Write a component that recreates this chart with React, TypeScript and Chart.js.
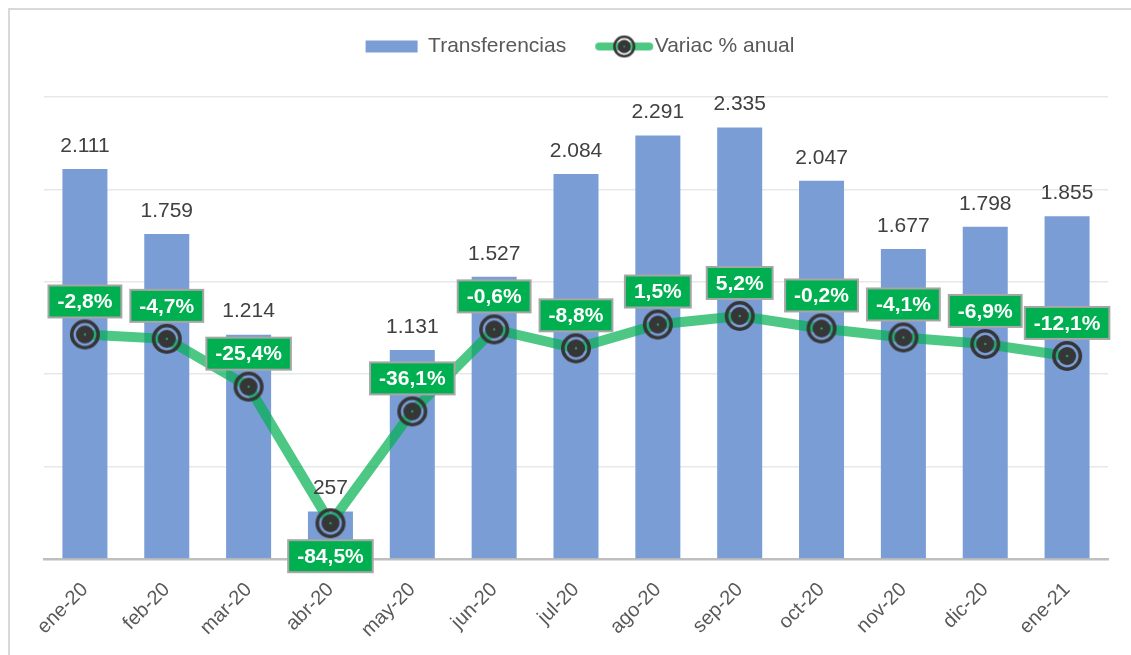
import React, { useEffect, useRef } from 'react';
import { Chart, registerables } from 'chart.js';

Chart.register(...registerables);

const categories = ['ene-20', 'feb-20', 'mar-20', 'abr-20', 'may-20', 'jun-20', 'jul-20', 'ago-20', 'sep-20', 'oct-20', 'nov-20', 'dic-20', 'ene-21'];
const transferencias = [2111, 1759, 1214, 257, 1131, 1527, 2084, 2291, 2335, 2047, 1677, 1798, 1855];
const variacion = [-2.8, -4.7, -25.4, -84.5, -36.1, -0.6, -8.8, 1.5, 5.2, -0.2, -4.1, -6.9, -12.1];
const labelsBelow = [3];

const FONT = "'Liberation Sans', Arial, sans-serif";
const BAR_COLOR = '#7b9dd6';
const LINE_COLOR = 'rgba(0,176,80,0.7)';
const MARKER_COLOR = '#363636';

function drawMarker(ctx: CanvasRenderingContext2D, cx: number, cy: number, s: number) {
  ctx.beginPath();
  ctx.arc(cx, cy, 13.2 * s, 0, Math.PI * 2);
  ctx.lineWidth = 3.6 * s;
  ctx.strokeStyle = MARKER_COLOR;
  ctx.stroke();
  ctx.beginPath();
  ctx.arc(cx, cy, 9 * s, 0, Math.PI * 2);
  ctx.fillStyle = MARKER_COLOR;
  ctx.fill();
  ctx.beginPath();
  ctx.arc(cx, cy, 1.2 * s, 0, Math.PI * 2);
  ctx.fillStyle = '#2f9e63';
  ctx.fill();
}

function makeMarkerCanvas() {
  const c = document.createElement('canvas');
  c.width = 34;
  c.height = 34;
  const ctx = c.getContext('2d')!;
  drawMarker(ctx, 17, 17, 1);
  return c;
}

function makeLegendLineCanvas() {
  const c = document.createElement('canvas');
  c.width = 72;
  c.height = 24;
  const ctx = c.getContext('2d')!;
  ctx.beginPath();
  ctx.moveTo(17, 12);
  ctx.lineTo(67, 12);
  ctx.lineWidth = 8;
  ctx.lineCap = 'round';
  ctx.strokeStyle = LINE_COLOR;
  ctx.stroke();
  drawMarker(ctx, 42, 12, 0.74);
  return c;
}

const fmtThousands = (v: number) => String(v).replace(/\B(?=(\d{3})+(?!\d))/g, '.');
const fmtPct = (v: number) => v.toFixed(1).replace('.', ',') + '%';

const labelPlugin = {
  id: 'valueLabels',
  afterDatasetsDraw(chart: any) {
    const ctx: CanvasRenderingContext2D = chart.ctx;
    ctx.save();
    const barMeta = chart.getDatasetMeta(0);
    ctx.font = `21px ${FONT}`;
    ctx.fillStyle = '#404040';
    ctx.textAlign = 'center';
    ctx.textBaseline = 'middle';
    barMeta.data.forEach((el: any, i: number) => {
      ctx.fillText(fmtThousands(transferencias[i]), el.x, el.y - 23);
    });
    const lineMeta = chart.getDatasetMeta(1);
    ctx.font = `bold 21px ${FONT}`;
    lineMeta.data.forEach((el: any, i: number) => {
      const text = fmtPct(variacion[i]);
      const w = ctx.measureText(text).width + 18;
      const h = 32;
      const below = labelsBelow.includes(i);
      const top = below ? el.y + 17 : el.y - 17 - h;
      const left = el.x - w / 2;
      ctx.fillStyle = '#00b050';
      ctx.fillRect(left, top, w, h);
      ctx.lineWidth = 2;
      ctx.strokeStyle = '#a6a6a6';
      ctx.strokeRect(left, top, w, h);
      ctx.fillStyle = '#ffffff';
      ctx.fillText(text, el.x, top + h / 2 + 1);
    });
    ctx.restore();
  },
};

const legendSpacePlugin = {
  id: 'legendSpace',
  afterInit(chart: any) {
    const legend = chart.legend;
    if (legend && !legend.__patched) {
      const orig = legend.fit;
      legend.fit = function () {
        orig.call(this);
        this.height += 30;
      };
      legend.__patched = true;
    }
  },
};

export default function App() {
  const ref = useRef<HTMLCanvasElement>(null);

  useEffect(() => {
    const marker = makeMarkerCanvas();
    const legendLine = makeLegendLineCanvas();
    const chart = new Chart(ref.current!, {
      type: 'bar',
      data: {
        labels: categories,
        datasets: [
          {
            type: 'bar',
            label: 'Transferencias',
            data: transferencias,
            backgroundColor: BAR_COLOR,
            borderWidth: 0,
            categoryPercentage: 1,
            barPercentage: 0.55,
            yAxisID: 'y',
            order: 2,
          },
          {
            type: 'line',
            label: 'Variac % anual',
            data: variacion,
            borderColor: LINE_COLOR,
            backgroundColor: LINE_COLOR,
            borderWidth: 10,
            tension: 0,
            pointStyle: marker as any,
            pointRadius: 13,
            yAxisID: 'y2',
            order: 1,
          } as any,
        ],
      },
      options: {
        animation: false,
        responsive: true,
        maintainAspectRatio: false,
        layout: { padding: { left: 34, right: 15, top: 0, bottom: 0 } },
        plugins: {
          tooltip: { enabled: false },
          legend: {
            display: true,
            position: 'top',
            labels: {
              usePointStyle: true,
              pointStyleWidth: 52,
              boxHeight: 12,
              padding: 26,
              color: '#595959',
              font: { family: FONT, size: 21 },
              generateLabels(chart: any) {
                const items = Chart.defaults.plugins.legend.labels.generateLabels(chart);
                items.sort((a: any, b: any) => a.datasetIndex - b.datasetIndex);
                items.forEach((it: any) => {
                  if (it.datasetIndex === 0) {
                    it.pointStyle = 'rect';
                    it.lineWidth = 0;
                    it.fillStyle = BAR_COLOR;
                    it.strokeStyle = BAR_COLOR;
                  } else {
                    it.pointStyle = legendLine;
                    it.lineWidth = 0;
                  }
                });
                return items;
              },
            },
          },
        },
        scales: {
          x: {
            grid: { display: false },
            border: { display: true, color: '#bfbfbf', width: 2.5 },
            ticks: {
              color: '#595959',
              font: { family: FONT, size: 20 },
              minRotation: 45,
              maxRotation: 45,
              padding: 11,
            },
            afterFit(s: any) {
              s.height = 96;
            },
          },
          y: {
            min: 0,
            max: 2500,
            ticks: { display: false, stepSize: 500 },
            grid: { color: '#e8e8e8', lineWidth: 1.5, drawTicks: false },
            border: { display: false },
            afterFit(s: any) {
              s.width = 0;
            },
          },
          y2: {
            min: -100,
            max: 100,
            display: false,
          },
        },
      },
      plugins: [labelPlugin, legendSpacePlugin],
    });
    return () => chart.destroy();
  }, []);

  return (
    <div
      style={{
        position: 'fixed',
        left: 8,
        top: 8,
        width: 1123,
        height: 647,
        boxSizing: 'border-box',
        borderTop: '2px solid #d9d9d9',
        borderLeft: '2px solid #d9d9d9',
      }}
    >
      <div style={{ position: 'relative', width: 1121, height: 645 }}>
        <canvas ref={ref} />
      </div>
    </div>
  );
}
